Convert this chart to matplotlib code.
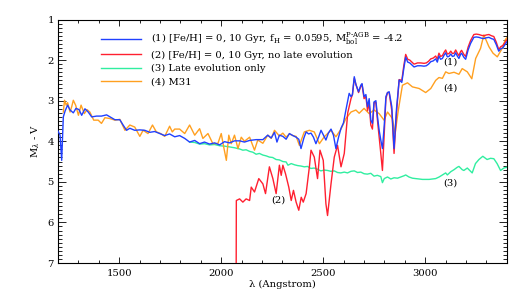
import matplotlib
matplotlib.use("Agg")
import matplotlib.pyplot as plt
from matplotlib.ticker import MultipleLocator

plt.rcParams['font.family'] = ['DejaVu Serif']
plt.rcParams['mathtext.fontset'] = 'dejavuserif'

# (1) total model
wl1 = [1200, 1210, 1218, 1226, 1235, 1247, 1259, 1275, 1288, 1303, 1316, 1332, 1348, 1365, 1389,
       1413, 1438, 1455, 1479, 1503, 1519, 1536, 1552, 1576, 1601, 1625, 1650, 1674, 1698, 1723,
       1747, 1772, 1796, 1821, 1845, 1870, 1894, 1918, 1943, 1967, 1992, 2016, 2041, 2065, 2090,
       2114, 2139, 2171, 2204, 2228, 2245, 2261, 2273, 2285, 2302, 2318, 2334, 2351, 2367, 2380,
       2391, 2405, 2416, 2428, 2440, 2452, 2464, 2477, 2489, 2501, 2513, 2525, 2538, 2550, 2562,
       2575, 2587, 2599, 2611, 2627, 2636, 2643, 2652, 2660, 2673, 2684, 2690, 2700, 2709, 2717,
       2725, 2733, 2741, 2749, 2758, 2766, 2774, 2782, 2790, 2799, 2807, 2815, 2823, 2836, 2847,
       2859, 2872, 2885, 2895, 2904, 2914, 2924, 2945, 2962, 2978, 2994, 3005, 3016, 3027, 3039,
       3051, 3059, 3067, 3075, 3084, 3092, 3100, 3108, 3116, 3125, 3133, 3141, 3149, 3157, 3165,
       3173, 3178, 3189, 3198, 3210, 3222, 3238, 3250, 3263, 3275, 3287, 3300, 3312, 3324, 3336,
       3348, 3360, 3370, 3380, 3393, 3400]
mag1 = [3.75, 3.85, 4.47, 3.40, 3.25, 3.11, 3.23, 3.30, 3.19, 3.22, 3.36, 3.20, 3.28, 3.40, 3.38,
        3.38, 3.35, 3.40, 3.47, 3.47, 3.60, 3.73, 3.68, 3.73, 3.72, 3.73, 3.78, 3.76, 3.81, 3.86,
        3.82, 3.89, 3.86, 3.93, 4.02, 3.98, 4.06, 4.02, 4.07, 4.04, 4.09, 4.01, 4.04, 3.99, 3.99,
        4.02, 3.98, 3.96, 3.96, 3.85, 3.92, 3.78, 4.02, 3.85, 3.88, 3.95, 3.81, 3.86, 3.90, 3.95,
        4.18, 3.92, 3.77, 3.82, 3.80, 3.90, 4.06, 3.90, 3.73, 3.85, 3.97, 3.80, 3.70, 3.85, 4.18,
        3.90, 3.68, 3.55, 3.23, 2.82, 2.90, 2.85, 2.41, 2.60, 2.78, 2.62, 2.58, 2.90, 2.85, 3.15,
        2.95, 3.48, 3.56, 3.03, 3.00, 3.40, 3.73, 3.97, 4.18, 3.60, 2.90, 2.80, 2.78, 3.15, 4.18,
        3.20, 2.49, 2.55, 2.20, 1.93, 2.05, 2.07, 2.17, 2.14, 2.14, 2.15, 2.14, 2.10, 2.04, 2.02,
        1.97, 2.05, 1.90, 1.98, 1.96, 1.88, 1.82, 1.92, 1.91, 1.85, 1.91, 1.90, 1.82, 1.90, 1.96,
        1.86, 1.83, 1.93, 1.98, 1.75, 1.59, 1.44, 1.43, 1.44, 1.46, 1.47, 1.45, 1.44, 1.47, 1.49,
        1.62, 1.78, 1.72, 1.70, 1.60, 1.55]

# (2) no late evolution
wl2 = [2073, 2074, 2090, 2106, 2122, 2139, 2147, 2163, 2184, 2204, 2217, 2236, 2253, 2269, 2285,
       2294, 2302, 2315, 2331, 2343, 2354, 2367, 2380, 2392, 2402, 2416, 2432, 2440, 2456, 2472,
       2484, 2500, 2513, 2521, 2538, 2554, 2570, 2587, 2603, 2620, 2636, 2643, 2652, 2660, 2673,
       2684, 2690, 2700, 2709, 2717, 2725, 2733, 2741, 2749, 2758, 2766, 2774, 2782, 2790, 2799,
       2807, 2815, 2823, 2836, 2847, 2859, 2872, 2885, 2895, 2904, 2914, 2924, 2945, 2962, 2978,
       2994, 3005, 3016, 3027, 3039, 3051, 3059, 3067, 3075, 3084, 3092, 3100, 3108, 3116, 3125,
       3133, 3141, 3149, 3157, 3165, 3173, 3178, 3189, 3198, 3210, 3222, 3238, 3250, 3263, 3275,
       3287, 3300, 3312, 3324, 3336, 3348, 3360, 3370, 3380, 3393, 3400]
mag2 = [7.60, 5.46, 5.42, 5.50, 5.42, 5.46, 5.13, 5.25, 4.92, 5.05, 5.29, 4.63, 4.92, 5.29, 4.59,
        4.84, 4.59, 4.80, 5.13, 5.46, 5.21, 5.50, 5.70, 5.38, 5.50, 5.29, 4.63, 4.22, 4.39, 4.92,
        4.22, 4.47, 5.54, 5.83, 5.05, 4.39, 4.10, 4.63, 4.30, 3.30, 2.95, 2.85, 2.45, 2.60, 2.80,
        2.65, 2.60, 2.95, 2.90, 3.25, 3.05, 3.60, 3.70, 3.05, 3.05, 3.50, 3.90, 4.30, 4.72, 3.80,
        2.95, 2.80, 2.80, 3.25, 4.30, 3.30, 2.48, 2.50, 2.13, 1.86, 1.98, 2.00, 2.10, 2.07, 2.07,
        2.08, 2.07, 2.03, 1.97, 1.95, 1.90, 1.98, 1.83, 1.91, 1.89, 1.81, 1.75, 1.85, 1.84, 1.78,
        1.84, 1.83, 1.75, 1.83, 1.89, 1.79, 1.76, 1.86, 1.91, 1.68, 1.52, 1.37, 1.36, 1.37, 1.39,
        1.40, 1.38, 1.37, 1.40, 1.42, 1.56, 1.74, 1.67, 1.64, 1.55, 1.50]

# (3) late evolution only
wl3 = [1845, 1870, 1894, 1918, 1943, 1967, 1992, 2016, 2041, 2065, 2090, 2106, 2122, 2139, 2155,
       2171, 2187, 2204, 2220, 2236, 2252, 2269, 2285, 2302, 2318, 2327, 2343, 2359, 2375, 2390,
       2407, 2423, 2439, 2456, 2472, 2488, 2505, 2521, 2537, 2554, 2570, 2586, 2603, 2619, 2636,
       2652, 2668, 2684, 2700, 2716, 2733, 2749, 2765, 2782, 2790, 2799, 2815, 2831, 2847, 2864,
       2880, 2896, 2904, 2920, 2937, 2953, 2970, 2986, 3002, 3019, 3035, 3051, 3068, 3084, 3100,
       3108, 3125, 3141, 3157, 3165, 3181, 3189, 3206, 3214, 3230, 3246, 3263, 3282, 3303, 3320,
       3336, 3352, 3369, 3385, 3400]
mag3 = [4.02, 4.03, 4.07, 4.06, 4.09, 4.08, 4.11, 4.12, 4.14, 4.16, 4.19, 4.22, 4.21, 4.25, 4.27,
        4.32, 4.30, 4.34, 4.36, 4.39, 4.40, 4.45, 4.46, 4.50, 4.51, 4.59, 4.55, 4.58, 4.60, 4.61,
        4.63, 4.62, 4.67, 4.66, 4.69, 4.73, 4.71, 4.72, 4.74, 4.73, 4.77, 4.78, 4.76, 4.78, 4.74,
        4.73, 4.77, 4.76, 4.80, 4.81, 4.79, 4.86, 4.84, 4.87, 5.02, 4.92, 4.88, 4.93, 4.90, 4.91,
        4.88, 4.85, 4.83, 4.88, 4.91, 4.92, 4.93, 4.94, 4.94, 4.94, 4.93, 4.92, 4.88, 4.83, 4.78,
        4.83, 4.75, 4.70, 4.64, 4.62, 4.70, 4.72, 4.66, 4.70, 4.78, 4.55, 4.45, 4.37, 4.45, 4.42,
        4.43, 4.55, 4.72, 4.66, 4.64]

# (4) M31
wl4 = [1226, 1232, 1240, 1247, 1259, 1267, 1275, 1287, 1300, 1313, 1329, 1342, 1356, 1375, 1397,
       1413, 1430, 1454, 1479, 1503, 1528, 1552, 1576, 1601, 1617, 1641, 1663, 1682, 1703, 1723,
       1747, 1760, 1772, 1796, 1821, 1845, 1870, 1894, 1910, 1935, 1959, 1984, 2000, 2012, 2025,
       2037, 2049, 2065, 2082, 2098, 2114, 2139, 2163, 2179, 2204, 2228, 2245, 2261, 2285, 2302,
       2318, 2334, 2351, 2367, 2383, 2407, 2432, 2456, 2481, 2505, 2538, 2562, 2587, 2611, 2636,
       2660, 2676, 2700, 2725, 2749, 2774, 2798, 2815, 2839, 2852, 2868, 2888, 2913, 2937, 2970,
       3002, 3027, 3051, 3067, 3084, 3100, 3116, 3141, 3165, 3181, 3206, 3228, 3247, 3271, 3287,
       3312, 3332, 3353, 3377, 3393, 3400]
mag4 = [3.28, 2.99, 3.11, 3.05, 3.28, 3.15, 2.99, 3.12, 3.36, 3.11, 3.32, 3.22, 3.28, 3.48, 3.48,
        3.56, 3.42, 3.44, 3.48, 3.46, 3.73, 3.60, 3.65, 3.88, 3.73, 3.81, 3.60, 3.77, 3.81, 3.88,
        3.63, 3.77, 3.70, 3.70, 3.81, 3.60, 3.85, 3.69, 3.93, 3.81, 4.06, 4.05, 3.81, 4.14, 4.47,
        3.85, 4.06, 3.85, 4.18, 3.90, 4.00, 3.90, 4.22, 3.97, 4.05, 3.85, 3.93, 3.73, 3.87, 3.80,
        3.90, 3.82, 3.86, 3.88, 4.10, 3.77, 3.73, 3.77, 4.06, 3.89, 3.73, 3.89, 3.70, 3.44, 3.28,
        3.23, 3.31, 3.19, 3.32, 3.23, 3.32, 3.48, 3.28, 3.44, 3.81, 3.23, 2.62, 2.56, 2.66, 2.70,
        2.80, 2.70, 2.50, 2.43, 2.45, 2.29, 2.33, 2.30, 2.35, 2.21, 2.29, 2.46, 1.96, 1.71, 1.38,
        1.67, 1.83, 1.92, 1.71, 1.49, 1.45]

labels = [r"(1) [Fe/H] = 0, 10 Gyr, f$_{\mathrm{H}}$ = 0.0595, M$_{\mathrm{bol}}^{\mathrm{P\text{-}AGB}}$ = -4.2",
          "(2) [Fe/H] = 0, 10 Gyr, no late evolution",
          "(3) Late evolution only",
          "(4) M31"]
colors = ['#2040ff', '#ff2030', '#30eea0', '#ffa020']

FS = 7.2

fig = plt.figure(figsize=(5.25, 3.0), dpi=100)
ax = fig.add_axes([0.1105, 0.1233, 0.855, 0.8117])

l3, = ax.plot(wl3, mag3, color=colors[2], lw=1.0, label=labels[2], zorder=2)
l4, = ax.plot(wl4, mag4, color=colors[3], lw=1.0, label=labels[3], zorder=3)
l2, = ax.plot(wl2, mag2, color=colors[1], lw=1.0, label=labels[1], zorder=4)
l1, = ax.plot(wl1, mag1, color=colors[0], lw=1.0, label=labels[0], zorder=5)

ax.set_xlim(1200, 3400)
ax.set_ylim(7, 1)
ax.xaxis.set_major_locator(MultipleLocator(500))
ax.xaxis.set_minor_locator(MultipleLocator(100))
ax.yaxis.set_major_locator(MultipleLocator(1))
ax.yaxis.set_minor_locator(MultipleLocator(0.1))
ax.tick_params(which='both', direction='in', top=True, right=True, labelsize=FS, width=0.6)
ax.tick_params(axis='x', which='major', length=4, pad=4)
ax.tick_params(axis='x', which='minor', length=2)
ax.tick_params(axis='y', which='major', length=6, pad=3)
ax.tick_params(axis='y', which='minor', length=3.2)
for s in ax.spines.values():
    s.set_linewidth(0.8)

ax.set_xlabel("λ (Angstrom)", fontsize=FS, labelpad=2)
ax.set_ylabel(r"M$_{\lambda}$ - V", fontsize=FS, labelpad=4)

ax.text(3124, 2.04, "(1)", fontsize=FS, ha='center', va='center')
ax.text(3124, 2.70, "(4)", fontsize=FS, ha='center', va='center')
ax.text(3124, 5.04, "(3)", fontsize=FS, ha='center', va='center')
ax.text(2282, 5.46, "(2)", fontsize=FS, ha='center', va='center')

ax.legend(handles=[l1, l2, l3, l4], loc='upper left', bbox_to_anchor=(0.08, 0.98),
          frameon=False, fontsize=FS, handlelength=4.0, handletextpad=1.0,
          labelspacing=0.42, borderpad=0.2)

fig.savefig("out.png", dpi=100)
